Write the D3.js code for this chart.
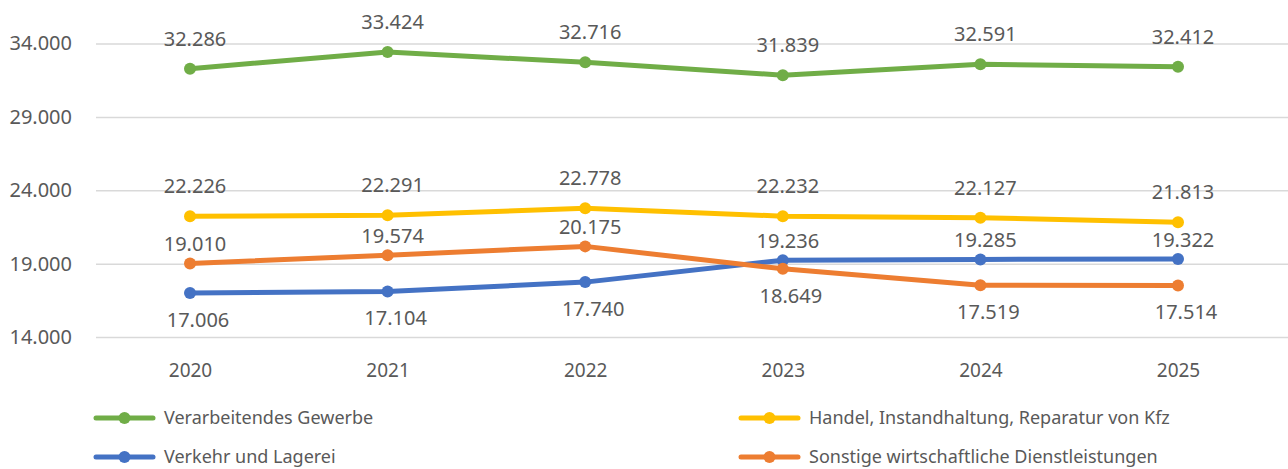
<!DOCTYPE html>
<html>
<head>
	<meta charset="utf-8">
	<title></title>
	<script src="https://d3js.org/d3.v7.min.js"></script>
	<style type="text/css">
		body { margin: 0; background: #fff; }
		svg text { font-family: 'Noto Sans', sans-serif; fill: #595959; }
	</style>
</head>
<body>
	<script type="text/javascript">
		var w = 1288;
		var h = 469;

		var years = ['2020', '2021', '2022', '2023', '2024', '2025'];
		var yTicks = [14000, 19000, 24000, 29000, 34000];

		var verarbeitendes = [32286, 33424, 32716, 31839, 32591, 32412];
		var handel = [22226, 22291, 22778, 22232, 22127, 21813];
		var verkehr = [17006, 17104, 17740, 19236, 19285, 19322];
		var sonstige = [19010, 19574, 20175, 18649, 17519, 17514];

		var seriesNames = ['Verarbeitendes Gewerbe', 'Handel, Instandhaltung, Reparatur von Kfz',
			'Verkehr und Lagerei', 'Sonstige wirtschaftliche Dienstleistungen'];
		var seriesColors = ['#70ad47', '#ffc000', '#4472c4', '#ed7d31'];

		var series = [
			{ name: seriesNames[0], color: seriesColors[0], values: verarbeitendes },
			{ name: seriesNames[1], color: seriesColors[1], values: handel },
			{ name: seriesNames[2], color: seriesColors[2], values: verkehr },
			{ name: seriesNames[3], color: seriesColors[3], values: sonstige }
		];

		var fmt = d3.formatLocale({ decimal: ',', thousands: '.', grouping: [3], currency: ['', ' €'] }).format(',.0f');

		var svg = d3.select('body').append('svg')
			.attr('width', w)
			.attr('height', h);

		var x = d3.scalePoint().domain(years).range([190, 1178]);
		var y = d3.scaleLinear().domain([14000, 34000]).range([337, 43.5]);

		// gridlines + y labels
		var yAxis = d3.axisLeft(y).tickValues(yTicks).tickSize(-(w - 96)).tickFormat(fmt).tickPadding(24);
		var gy = svg.append('g').attr('transform', 'translate(96,0)').call(yAxis);
		gy.select('.domain').remove();
		gy.selectAll('line').attr('stroke', '#d9d9d9').attr('stroke-width', 1.5);
		gy.selectAll('text').style('font-size', '20px').attr('fill', '#595959');

		// x labels
		var xAxis = d3.axisBottom(x).tickSize(0).tickPadding(0);
		var gx = svg.append('g').attr('transform', 'translate(0,377)').call(xAxis);
		gx.select('.domain').remove();
		gx.selectAll('text').style('font-size', '19px').attr('fill', '#595959').attr('dy', 0);

		var line = d3.line()
			.x(function (d, i) { return x(years[i]); })
			.y(function (d) { return y(d); });

		series.forEach(function (s) {
			svg.append('path')
				.datum(s.values)
				.attr('d', line)
				.attr('fill', 'none')
				.attr('stroke', s.color)
				.attr('stroke-width', 5)
				.attr('stroke-linejoin', 'round')
				.attr('stroke-linecap', 'round');

			svg.append('g').selectAll('circle')
				.data(s.values)
				.enter()
				.append('circle')
				.attr('cx', function (d, i) { return x(years[i]); })
				.attr('cy', function (d) { return y(d); })
				.attr('r', 6)
				.attr('fill', s.color);
		});

		// labels: blue and orange swap sides where they cross, and sit tighter above
		var crossing = function (s) { return s.values === verkehr || s.values === sonstige; };
		function below(s, i) {
			if (s.values === verkehr) return verkehr[i] < sonstige[i];
			if (s.values === sonstige) return sonstige[i] < verkehr[i];
			return false;
		}
		function labelDy(s, i) {
			if (below(s, i)) return 34;
			return crossing(s) ? -12 : -23;
		}

		series.forEach(function (s) {
			svg.append('g').selectAll('text')
				.data(s.values)
				.enter()
				.append('text')
				.attr('x', function (d, i) { return x(years[i]) + (below(s, i) ? 8 : 5); })
				.attr('y', function (d, i) { return y(d) + labelDy(s, i); })
				.attr('text-anchor', 'middle')
				.style('font-size', '20px')
				.text(function (d) { return fmt(d); });
		});

		// legend
		var legendPos = [[96, 418], [741, 418], [96, 457], [741, 457]];
		var lg = svg.append('g').selectAll('g')
			.data(series)
			.enter()
			.append('g')
			.attr('transform', function (d, i) { return 'translate(' + legendPos[i][0] + ',' + legendPos[i][1] + ')'; });

		lg.append('line')
			.attr('x1', 0).attr('x2', 57)
			.attr('stroke', function (d) { return d.color; })
			.attr('stroke-width', 5)
			.attr('stroke-linecap', 'round');
		lg.append('circle')
			.attr('cx', 28.5).attr('r', 6)
			.attr('fill', function (d) { return d.color; });
		lg.append('text')
			.attr('x', 68).attr('dy', '0.35em')
			.style('font-size', '18px')
			.text(function (d) { return d.name; });
	</script>
</body>
</html>
